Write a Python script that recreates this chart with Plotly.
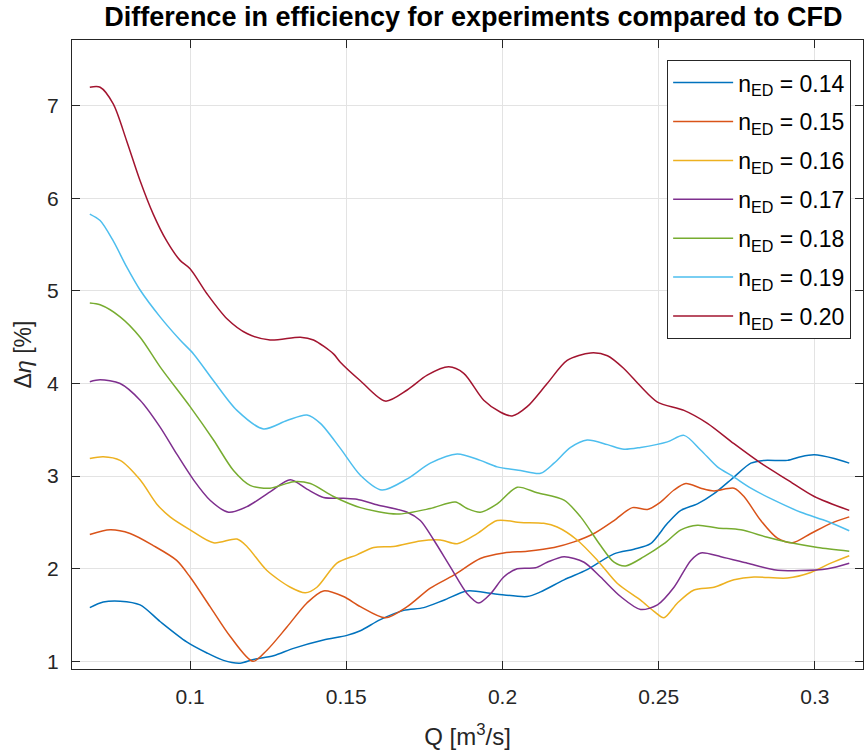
import plotly.graph_objects as go

# ---- data ----
q_014 = [0.0679,0.0722,0.0776,0.0840,0.0904,0.0989,0.1054,0.1107,0.1160,0.1203,0.1267,0.1331,0.1427,0.1502,0.1545,0.1609,0.1684,0.1748,0.1812,0.1887,0.1972,0.2079,0.2122,0.2197,0.2271,0.2357,0.2421,0.2474,0.2528,0.2571,0.2624,0.2677,0.2741,0.2795,0.2837,0.2912,0.2955,0.2998,0.3062,0.3110]
d_014 = [1.58,1.64,1.65,1.61,1.43,1.21,1.09,1.01,0.98,1.02,1.06,1.14,1.23,1.28,1.33,1.45,1.55,1.58,1.66,1.76,1.73,1.70,1.75,1.88,1.99,2.16,2.21,2.27,2.49,2.63,2.70,2.81,2.99,3.14,3.17,3.17,3.21,3.23,3.19,3.14]

q_015 = [0.0679,0.0744,0.0808,0.0882,0.0957,0.1000,0.1064,0.1128,0.1201,0.1246,0.1310,0.1374,0.1427,0.1491,0.1545,0.1625,0.1695,0.1769,0.1844,0.1929,0.2004,0.2079,0.2165,0.2229,0.2293,0.2357,0.2416,0.2464,0.2506,0.2549,0.2587,0.2635,0.2677,0.2741,0.2773,0.2827,0.2880,0.2928,0.2987,0.3051,0.3110]
d_015 = [2.37,2.42,2.38,2.25,2.09,1.91,1.59,1.27,1.00,1.12,1.37,1.63,1.76,1.70,1.59,1.47,1.59,1.79,1.93,2.11,2.17,2.19,2.23,2.29,2.38,2.52,2.66,2.64,2.72,2.85,2.92,2.87,2.84,2.87,2.78,2.52,2.33,2.28,2.38,2.49,2.56]

q_016 = [0.0679,0.0722,0.0776,0.0840,0.0893,0.0936,0.1000,0.1075,0.1150,0.1182,0.1246,0.1321,0.1369,0.1406,0.1470,0.1534,0.1588,0.1651,0.1737,0.1801,0.1855,0.1919,0.1983,0.2058,0.2132,0.2175,0.2239,0.2304,0.2368,0.2442,0.2485,0.2517,0.2560,0.2613,0.2677,0.2741,0.2805,0.2912,0.2987,0.3051,0.3110]
d_016 = [3.19,3.21,3.17,2.96,2.70,2.56,2.42,2.28,2.32,2.24,1.98,1.80,1.74,1.80,2.06,2.15,2.23,2.24,2.30,2.31,2.27,2.38,2.52,2.50,2.49,2.45,2.31,2.09,1.84,1.66,1.54,1.47,1.63,1.77,1.80,1.88,1.91,1.90,1.96,2.06,2.14]

q_017 = [0.0679,0.0712,0.0776,0.0840,0.0904,0.0957,0.1011,0.1064,0.1123,0.1182,0.1256,0.1321,0.1374,0.1427,0.1491,0.1534,0.1598,0.1695,0.1737,0.1780,0.1833,0.1887,0.1924,0.1962,0.2004,0.2047,0.2106,0.2143,0.2197,0.2261,0.2314,0.2378,0.2442,0.2496,0.2549,0.2603,0.2635,0.2699,0.2784,0.2869,0.2955,0.3041,0.3110]
d_017 = [4.02,4.04,4.00,3.82,3.53,3.24,2.96,2.74,2.61,2.67,2.83,2.96,2.86,2.77,2.76,2.75,2.69,2.61,2.52,2.31,2.02,1.73,1.63,1.73,1.91,2.00,2.01,2.07,2.13,2.07,1.91,1.70,1.56,1.61,1.80,2.09,2.17,2.13,2.06,1.99,1.98,2.00,2.06]

q_018 = [0.0679,0.0712,0.0776,0.0840,0.0904,0.1000,0.1075,0.1139,0.1192,0.1256,0.1331,0.1385,0.1459,0.1545,0.1662,0.1769,0.1849,0.1887,0.1929,0.1983,0.2047,0.2111,0.2197,0.2250,0.2314,0.2357,0.2394,0.2453,0.2517,0.2571,0.2624,0.2688,0.2763,0.2848,0.2923,0.3009,0.3110]
d_018 = [4.87,4.85,4.72,4.50,4.18,3.75,3.39,3.06,2.90,2.87,2.94,2.92,2.78,2.66,2.59,2.65,2.72,2.65,2.61,2.70,2.88,2.82,2.74,2.56,2.25,2.07,2.03,2.13,2.27,2.42,2.47,2.44,2.42,2.34,2.28,2.23,2.19]

q_019 = [0.0679,0.0712,0.0754,0.0797,0.0840,0.0904,0.0968,0.1011,0.1075,0.1150,0.1235,0.1310,0.1374,0.1417,0.1481,0.1545,0.1614,0.1695,0.1769,0.1855,0.1929,0.1983,0.2058,0.2122,0.2165,0.2218,0.2271,0.2336,0.2389,0.2442,0.2528,0.2581,0.2635,0.2688,0.2741,0.2795,0.2869,0.2955,0.3041,0.3110]
d_019 = [5.83,5.76,5.54,5.26,5.01,4.72,4.47,4.32,4.03,3.71,3.51,3.60,3.66,3.57,3.30,3.01,2.85,2.97,3.14,3.24,3.17,3.10,3.06,3.03,3.14,3.31,3.39,3.34,3.29,3.31,3.37,3.44,3.28,3.10,2.99,2.87,2.74,2.61,2.51,2.41]

q_020 = [0.0679,0.0712,0.0754,0.0797,0.0840,0.0882,0.0925,0.0968,0.1000,0.1054,0.1118,0.1182,0.1256,0.1353,0.1395,0.1459,0.1481,0.1545,0.1625,0.1695,0.1759,0.1828,0.1876,0.1940,0.1994,0.2031,0.2079,0.2143,0.2207,0.2282,0.2336,0.2389,0.2442,0.2496,0.2581,0.2656,0.2741,0.2827,0.2912,0.2998,0.3110]
d_020 = [7.20,7.20,7.02,6.62,6.19,5.83,5.54,5.33,5.24,4.97,4.70,4.54,4.47,4.50,4.47,4.32,4.23,4.03,3.81,3.93,4.09,4.18,4.11,3.82,3.69,3.65,3.75,4.00,4.25,4.33,4.30,4.16,3.97,3.80,3.71,3.57,3.35,3.14,2.96,2.78,2.63]

labels = ["n<sub>ED</sub> = 0.14", "n<sub>ED</sub> = 0.15", "n<sub>ED</sub> = 0.16",
          "n<sub>ED</sub> = 0.17", "n<sub>ED</sub> = 0.18", "n<sub>ED</sub> = 0.19",
          "n<sub>ED</sub> = 0.20"]
colors = ["#0072BD", "#D95319", "#EDB120", "#7E2F8E", "#77AC30", "#4DBEEE", "#A2142F"]
series = [(q_014, d_014), (q_015, d_015), (q_016, d_016), (q_017, d_017),
          (q_018, d_018), (q_019, d_019), (q_020, d_020)]

x_ticks = [0.1, 0.15, 0.2, 0.25, 0.3]
x_ticktext = ["0.1", "0.15", "0.2", "0.25", "0.3"]
y_ticks = [1, 2, 3, 4, 5, 6, 7]

FONT = "Liberation Sans, Arial, Helvetica, sans-serif"
AX = "#262626"

fig = go.Figure()
for i, ((q, d), lab, col) in enumerate(zip(series, labels, colors)):
    fig.add_trace(go.Scatter(x=q, y=d, mode="lines", name=lab,
                             line=dict(color=col, width=1.5, shape="spline", smoothing=0.8),
                             legendgroup=f"g{i}"))

axis_common = dict(showline=True, linecolor=AX, linewidth=1.3, mirror="ticks",
                   ticks="inside", ticklen=8, tickcolor=AX, tickwidth=1,
                   showgrid=True, gridcolor="#e3e3e3", gridwidth=1,
                   zeroline=False, tickfont=dict(family=FONT, size=21, color=AX))

fig.update_xaxes(range=[0.0622, 0.3154], tickvals=x_ticks, ticktext=x_ticktext,
                 ticklabelstandoff=9,
                 title=dict(text="Q [m<sup>3</sup>/s]", font=dict(family=FONT, size=24, color=AX),
                            standoff=20),
                 **axis_common)
fig.update_yaxes(range=[0.917, 7.71], tickvals=y_ticks, ticklabelstandoff=8,
                 title=dict(text="Δ<i>η</i> [%]", font=dict(family=FONT, size=23, color=AX),
                            standoff=8),
                 **axis_common)

fig.update_layout(
    width=864, height=756,
    margin=dict(l=72, r=1, t=40, b=87),
    paper_bgcolor="white", plot_bgcolor="white",
    title=dict(text="<b>Difference in efficiency for experiments compared to CFD</b>",
               font=dict(family=FONT, size=27, color="black"),
               x=0.548, xanchor="center", y=0.978, yanchor="middle"),
    legend=dict(x=0.985, y=0.968, xanchor="right", yanchor="top",
                bgcolor="white", bordercolor=AX, borderwidth=1,
                font=dict(family=FONT, size=23, color="black"),
                tracegroupgap=6, itemwidth=60),
    showlegend=True,
)

fig.write_html("out.html")
